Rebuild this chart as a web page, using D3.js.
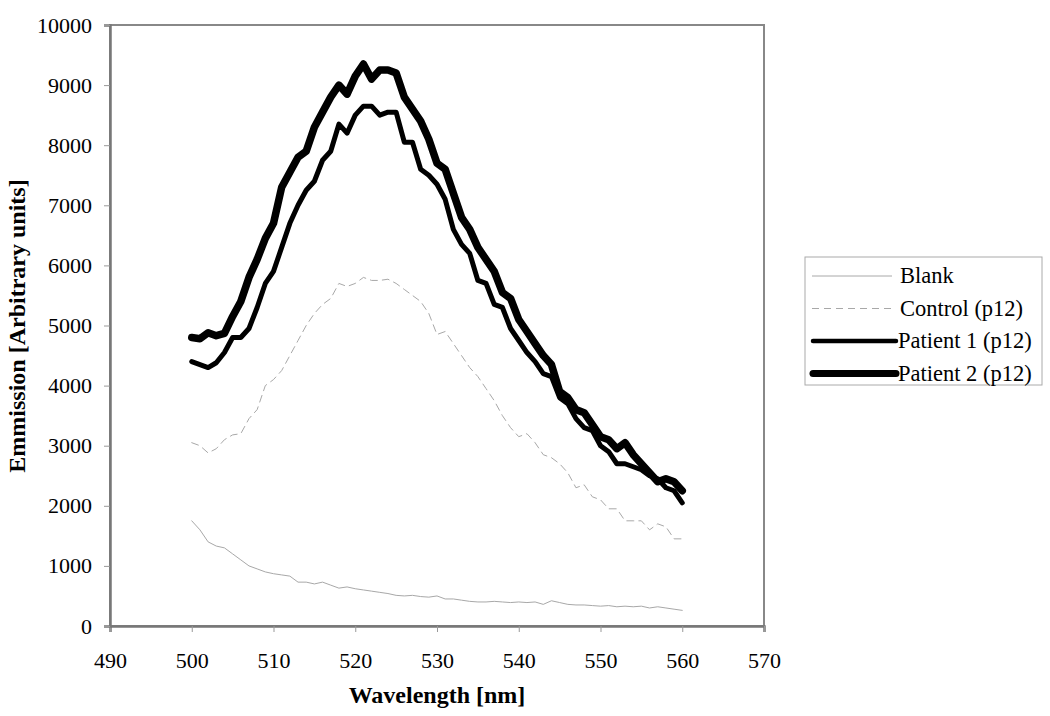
<!DOCTYPE html>
<html><head><meta charset="utf-8">
<script src="https://cdn.jsdelivr.net/npm/d3@7"></script>
<style>body{margin:0;background:#fff}svg{display:block}</style>
</head><body><svg id="c" width="1050" height="716"></svg>
<script>
const wavelengths = d3.range(500, 561);
const blank = [1750,1600,1400,1330,1300,1200,1100,1000,950,900,870,850,830,730,730,700,730,680,630,650,620,600,580,560,540,510,500,510,490,480,500,450,450,430,410,400,400,410,400,390,400,390,400,360,420,390,360,350,350,340,330,340,320,330,320,330,300,320,300,280,260];
const control = [3050,3000,2880,2950,3100,3180,3200,3450,3600,4000,4100,4250,4500,4750,5000,5200,5350,5450,5700,5650,5700,5800,5750,5750,5770,5700,5600,5500,5400,5200,4850,4900,4700,4500,4300,4150,3950,3750,3500,3300,3150,3200,3050,2850,2800,2700,2550,2300,2350,2150,2100,1950,1950,1750,1750,1750,1600,1700,1650,1450,1450];
const patient1 = [4400,4350,4300,4380,4550,4800,4800,4950,5300,5700,5900,6300,6700,7000,7250,7400,7750,7900,8350,8200,8500,8650,8650,8500,8550,8550,8050,8050,7600,7500,7350,7100,6600,6350,6200,5750,5700,5350,5300,4950,4750,4550,4400,4200,4150,3800,3700,3450,3300,3250,3000,2900,2700,2700,2650,2600,2500,2450,2300,2250,2050];
const patient2 = [4800,4780,4880,4830,4870,5150,5400,5800,6100,6450,6700,7300,7550,7800,7900,8300,8550,8800,9000,8850,9150,9350,9100,9250,9250,9200,8800,8600,8400,8100,7700,7600,7200,6800,6600,6300,6100,5900,5550,5450,5100,4900,4700,4500,4350,3900,3800,3600,3550,3350,3150,3100,2950,3050,2850,2700,2550,2400,2450,2400,2250];
const seriesNames = ["Blank","Control (p12)","Patient 1 (p12)","Patient 2 (p12)"];
const xTicks = [490,500,510,520,530,540,550,560,570];
const yTicks = [0,1000,2000,3000,4000,5000,6000,7000,8000,9000,10000];

const svg = d3.select("#c");
const L = 110, R = 764, T = 25, B = 626;
const x = d3.scaleLinear().domain([490,570]).range([L,R]);
const y = d3.scaleLinear().domain([0,10000]).range([B,T]);
const font = "'Liberation Serif','Times New Roman',serif";

// plot frame
svg.append("rect").attr("x",L).attr("y",T).attr("width",R-L).attr("height",B-T)
  .attr("fill","none").attr("stroke","#888").attr("stroke-width",2);

const xa = svg.append("g").attr("transform",`translate(0,${B})`)
  .call(d3.axisBottom(x).tickValues(xTicks).tickSize(6).tickPadding(20).tickFormat(d3.format("d")));
const ya = svg.append("g").attr("transform",`translate(${L},0)`)
  .call(d3.axisLeft(y).tickValues(yTicks).tickSize(6).tickPadding(12).tickFormat(d3.format("d")));
[xa,ya].forEach(a=>{
  a.select(".domain").attr("stroke","#777").attr("stroke-width",2.5);
  a.selectAll(".tick line").attr("stroke","#999").attr("stroke-width",1);
  a.selectAll(".tick text").attr("font-family",font).attr("font-size",22).attr("fill","#000");
});

const line = d3.line().x((d,i)=>x(wavelengths[i])).y(d=>y(d));
const styles = [
  {data:blank, color:"#a8a8a8", w:1, dash:null},
  {data:control, color:"#a8a8a8", w:1, dash:"7,5"},
  {data:patient1, color:"#000", w:5, dash:null},
  {data:patient2, color:"#000", w:7.5, dash:null}
];
styles.forEach(s=>{
  svg.append("path").datum(s.data).attr("d",line).attr("fill","none")
    .attr("stroke",s.color).attr("stroke-width",s.w).attr("stroke-dasharray",s.dash)
    .attr("stroke-linejoin","round").attr("stroke-linecap","round");
});

// axis titles
svg.append("text").attr("x",437).attr("y",703).attr("text-anchor","middle")
  .attr("font-family",font).attr("font-weight","bold").attr("font-size",24).text("Wavelength [nm]");
svg.append("text").attr("transform",`translate(25,326) rotate(-90)`).attr("text-anchor","middle")
  .attr("font-family",font).attr("font-weight","bold").attr("font-size",24).text("Emmission [Arbitrary units]");

// legend
const lg = svg.append("g");
lg.append("rect").attr("x",805).attr("y",257).attr("width",237).attr("height",128)
  .attr("fill","#fff").attr("stroke","#aaa").attr("stroke-width",1);
styles.forEach((s,i)=>{
  const yy = 276 + i*32.5;
  lg.append("line").attr("x1",s.w>2?813:812).attr("x2",s.w>2?896:892).attr("y1",yy).attr("y2",yy)
    .attr("stroke",s.color).attr("stroke-width",s.w>2?s.w-0.5:s.w).attr("stroke-dasharray",s.dash)
    .attr("stroke-linecap",s.w>2?"round":"butt");
  lg.append("text").attr("x",s.w>2?898:900).attr("y",yy+7).attr("font-family",font).attr("font-size",22.5)
    .text(seriesNames[i]);
});
</script></body></html>
